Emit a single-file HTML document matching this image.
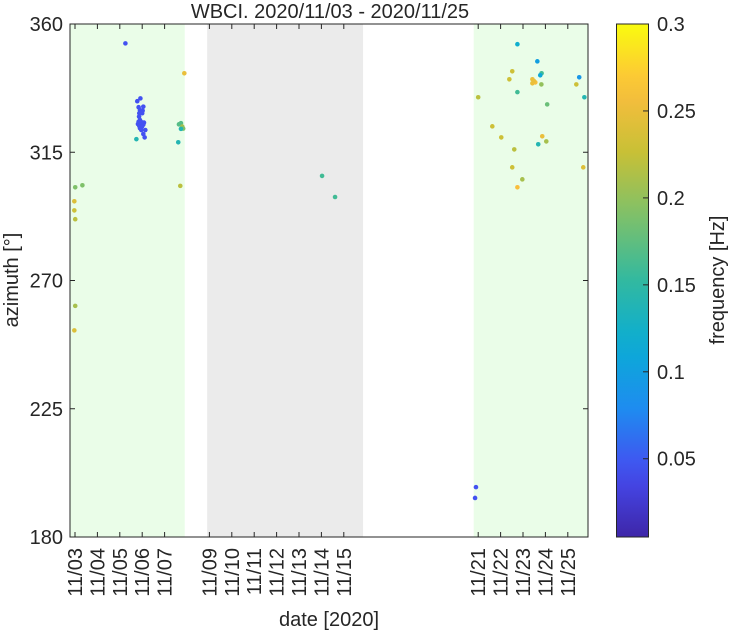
<!DOCTYPE html>
<html><head><meta charset="utf-8"><style>
body{margin:0;background:#fff;}
svg{font-family:"Liberation Sans",Arial,sans-serif;}
</style></head><body>
<svg id="c" width="731" height="630" viewBox="0 0 731 630"></svg>
<script>
const tickDays=[0,1,2,3,4,6,7,8,9,10,11,12,18,19,20,21,22];
const tickLabels=["11/03","11/04","11/05","11/06","11/07","11/09","11/10","11/11","11/12","11/13","11/14","11/15","11/21","11/22","11/23","11/24","11/25"];
const yTicks=[180,225,270,315,360];
const cbTicks=[0.05,0.1,0.15,0.2,0.25,0.3];
const greenSpans=[[-0.22,4.9],[17.8,22.9]];
const graySpans=[[5.9,12.86]];
const days=[2.25,4.88,2.92,2.78,2.84,3.05,2.90,3.02,2.87,3.00,2.86,2.90,2.84,2.96,3.08,2.81,2.93,3.05,2.87,2.99,2.90,3.14,2.96,3.05,3.11,2.74,4.73,4.64,4.79,4.83,4.73,4.61,0.01,0.33,4.70,-0.03,-0.03,0.01,0.01,-0.03,11.03,11.61,17.90,17.86,19.75,20.64,19.52,19.39,20.42,20.42,20.55,20.49,20.83,20.77,20.82,22.51,22.38,18.00,19.75,22.74,21.08,18.63,19.03,20.86,21.04,20.68,19.61,19.52,22.69,19.97,19.75];
const azimuths=[353.2,342.7,333.9,332.9,330.8,331.0,329.8,329.6,328.7,328.7,327.5,326.3,325.7,325.6,325.4,324.9,324.8,324.7,324.2,324.0,323.4,322.8,322.8,321.4,320.2,319.6,325.2,324.8,324.0,323.3,323.2,318.5,302.7,303.4,303.2,297.8,294.6,291.5,261.1,252.5,306.7,299.3,197.5,193.7,352.9,346.9,343.4,340.6,340.6,339.2,339.5,340.0,342.7,342.0,338.8,341.3,338.8,334.3,336.1,334.3,331.8,324.1,320.2,320.6,318.8,317.8,316.0,309.7,309.7,305.5,302.7];
const freqs=[0.045,0.25,0.045,0.045,0.045,0.045,0.045,0.045,0.045,0.045,0.045,0.045,0.045,0.045,0.045,0.045,0.045,0.045,0.045,0.045,0.045,0.045,0.045,0.045,0.045,0.14,0.17,0.17,0.21,0.19,0.14,0.14,0.19,0.19,0.22,0.24,0.23,0.22,0.21,0.24,0.16,0.16,0.045,0.045,0.12,0.1,0.23,0.23,0.25,0.25,0.26,0.25,0.16,0.11,0.2,0.09,0.23,0.22,0.16,0.14,0.18,0.23,0.23,0.25,0.21,0.14,0.22,0.23,0.24,0.21,0.26];

const L=70,R=588,T=24,B=537;
const xs=d=>75+d*22.4;
const ys=a=>B-(a-180)/180*(B-T);
const fmin=0.005,fmax=0.3;
const cy=f=>B-(f-fmin)/(fmax-fmin)*(B-T);
const stops=[[0,[62,38,168]],[0.125,[70,76,241]],[0.25,[30,140,240]],[0.375,[10,172,212]],[0.5,[50,185,160]],[0.625,[125,193,106]],[0.75,[200,192,54]],[0.875,[253,190,61]],[1,[249,251,14]]];
function cmap(t){t=Math.max(0,Math.min(1,t));for(let i=1;i<stops.length;i++){if(t<=stops[i][0]){const a=stops[i-1],b=stops[i];const u=(t-a[0])/(b[0]-a[0]);const c=a[1].map((v,k)=>Math.round(v+(b[1][k]-v)*u));return `rgb(${c})`;}}return 'rgb(249,251,14)';}
const svg=document.getElementById('c');
const NS='http://www.w3.org/2000/svg';
function mk(tag,at,parent){const e=document.createElementNS(NS,tag);for(const k in at)e.setAttribute(k,at[k]);(parent||svg).appendChild(e);return e;}

greenSpans.forEach(s=>{const e=mk('rect',{x:Math.max(L,xs(s[0])),y:T,width:Math.min(R,xs(s[1]))-Math.max(L,xs(s[0])),height:B-T,fill:'#eafde8'});

});
graySpans.forEach(s=>{const e=mk('rect',{x:xs(s[0]),y:T,width:xs(s[1])-xs(s[0]),height:B-T,fill:'#ebebeb'});

});

days.forEach((d,i)=>{const e=mk('circle',{cx:xs(d),cy:ys(azimuths[i]),r:2.3,fill:cmap((freqs[i]-fmin)/(fmax-fmin))});

});

mk('rect',{x:L,y:T,width:R-L,height:B-T,fill:'none',stroke:'#262626','stroke-width':1});
tickDays.forEach((d,i)=>{const x=xs(d);
mk('line',{x1:x,x2:x,y1:B,y2:B-5,stroke:'#262626'});
mk('line',{x1:x,x2:x,y1:T,y2:T+5,stroke:'#262626'});
const t=mk('text',{x:0,y:0,transform:`translate(${x+7},548) rotate(-90)`,'text-anchor':'end','font-size':'20',fill:'#262626'});
t.textContent=tickLabels[i];

});
yTicks.forEach(v=>{const y=ys(v);
mk('line',{x1:L,x2:L+5,y1:y,y2:y,stroke:'#262626'});
mk('line',{x1:R,x2:R-5,y1:y,y2:y,stroke:'#262626'});
const t=mk('text',{x:L-7,y:y+7,'text-anchor':'end','font-size':'20',fill:'#262626'});
t.textContent=v;

});

const g=mk('defs',{});
const lg=mk('linearGradient',{id:'pg',x1:0,y1:1,x2:0,y2:0},g);
for(let i=0;i<=20;i++){mk('stop',{offset:i/20,'stop-color':cmap(i/20)},lg);}
const cb=mk('rect',{x:616.5,y:T,width:32,height:B-T,fill:'url(#pg)',stroke:'#262626','stroke-width':1});


cbTicks.forEach(v=>{const y=cy(v);
mk('line',{x1:643,x2:648.5,y1:y,y2:y,stroke:'#262626'});
const t=mk('text',{x:657,y:y+7,'font-size':'20',fill:'#262626'});
t.textContent=v;

});
</script>
<svg width="731" height="630" style="position:absolute;left:0;top:0" font-family="Liberation Sans, Arial, sans-serif">
<text x="330" y="18" text-anchor="middle" font-size="20" fill="#262626">WBCI. 2020/11/03 - 2020/11/25</text>
<text x="0" y="0" transform="translate(18,280) rotate(-90)" text-anchor="middle" font-size="20" fill="#262626">azimuth [°]</text>
<text x="329" y="626" text-anchor="middle" font-size="20" fill="#262626">date [2020]</text>
<text x="0" y="0" transform="translate(724,280) rotate(-90)" text-anchor="middle" font-size="20" fill="#262626">frequency [Hz]</text>
</svg>
</body></html>
